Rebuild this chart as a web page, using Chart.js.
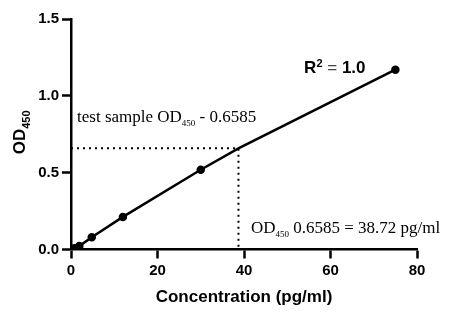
<!DOCTYPE html>
<html>
<head>
<meta charset="utf-8">
<script src="https://cdn.jsdelivr.net/npm/chart.js@4"></script>
<style>
  body { margin: 0; background: #fff; }
  canvas { display: block; }
</style>
</head>
<body>
<canvas id="chart" width="458" height="316"></canvas>
<script>
// standard curve (pg/ml vs OD450)
const concentrations = [0, 0.77, 1.92, 4.8, 12, 30, 38.72, 75];
const odValues = [0, 0.008, 0.022, 0.08, 0.212, 0.519, 0.6585, 1.17];
// 38.72 is the interpolated test sample, drawn without a marker
const pointSizes = [3, 3, 3, 3, 3, 3, 0, 3];

const sampleOD = 0.6585;
const sampleConc = 38.72;

const xTicks = [0, 20, 40, 60, 80];
const yTicks = [0, 0.5, 1.0, 1.5];

const SANS = "'Liberation Sans', Arial, sans-serif";
const SERIF = "'Liberation Serif', 'Times New Roman', serif";

// draws a run of text pieces, some of them sub/superscript
function drawRich(ctx, parts, x, y) {
    ctx.textBaseline = "alphabetic";
    ctx.textAlign = "left";
    let cx = x;
    parts.forEach(p => {
        ctx.font = p.font;
        ctx.fillStyle = p.color || "#000";
        ctx.fillText(p.t, cx, y + (p.dy || 0));
        cx += ctx.measureText(p.t).width;
    });
}

const labelsPlugin = {
    id: "labels",
    afterDraw(chart) {
        const ctx = chart.ctx;
        const xs = chart.scales.x;
        const ys = chart.scales.y;
        ctx.save();

        drawRich(ctx, [
            { t: "test sample OD", font: "17px " + SERIF },
            { t: "450", font: "9px " + SERIF, dy: 4 },
            { t: " - 0.6585", font: "17px " + SERIF }
        ], xs.getPixelForValue(1.4), ys.getPixelForValue(0.83));

        drawRich(ctx, [
            { t: "R", font: "bold 17px " + SANS },
            { t: "2", font: "bold 11px " + SANS, dy: -6 },
            { t: " = ", font: "17px " + SANS, color: "#444" },
            { t: "1.0", font: "bold 17px " + SANS }
        ], xs.getPixelForValue(53.9), ys.getPixelForValue(1.15));

        drawRich(ctx, [
            { t: "OD", font: "17px " + SERIF },
            { t: "450", font: "9px " + SERIF, dy: 4 },
            { t: " 0.6585 = 38.72 pg/ml", font: "17px " + SERIF }
        ], xs.getPixelForValue(41.6), ys.getPixelForValue(0.108));

        // y axis title, rotated
        ctx.translate(25, (ys.top + ys.bottom) / 2 + 20);
        ctx.rotate(-Math.PI / 2);
        drawRich(ctx, [
            { t: "OD", font: "bold 17px " + SANS },
            { t: "450", font: "bold 11px " + SANS, dy: 5 }
        ], 0, 0);

        ctx.restore();
    }
};

const axisGrid = {
    drawOnChartArea: false,
    drawTicks: true,
    tickLength: 9,
    tickWidth: 2.5,
    tickColor: "#000"
};

new Chart(document.getElementById("chart"), {
    type: "scatter",
    data: {
        datasets: [
            {
                label: "standard",
                data: concentrations.map((c, i) => ({ x: c, y: odValues[i] })),
                showLine: true,
                borderColor: "#000",
                backgroundColor: "#000",
                borderWidth: 2.5,
                pointRadius: pointSizes,
                pointHoverRadius: pointSizes
            },
            {
                label: "sample",
                data: [
                    { x: 0, y: sampleOD },
                    { x: sampleConc, y: sampleOD },
                    { x: sampleConc, y: 0 }
                ],
                showLine: true,
                borderColor: "#000",
                borderWidth: 2,
                borderDash: [2, 4],
                pointRadius: 0
            }
        ]
    },
    options: {
        responsive: false,
        animation: false,
        devicePixelRatio: 1,
        layout: { padding: { top: 19, right: 41, left: 0, bottom: 0 } },
        plugins: {
            legend: { display: false },
            tooltip: { enabled: false }
        },
        scales: {
            x: {
                type: "linear",
                min: 0,
                max: 80,
                afterFit: s => { s.height = 66.5; },
                afterBuildTicks: s => { s.ticks = xTicks.map(v => ({ value: v })); },
                border: { display: true, color: "#000", width: 2.5 },
                grid: axisGrid,
                ticks: {
                    color: "#000",
                    padding: 3,
                    maxRotation: 0,
                    font: { family: SANS, size: 15, weight: "bold" }
                },
                title: {
                    display: true,
                    text: "Concentration (pg/ml)",
                    color: "#000",
                    padding: { top: 4, bottom: 8 },
                    font: { family: SANS, size: 17, weight: "bold" }
                }
            },
            y: {
                type: "linear",
                min: 0,
                max: 1.5,
                afterFit: s => { s.width = 71; },
                afterBuildTicks: s => { s.ticks = yTicks.map(v => ({ value: v })); },
                border: { display: true, color: "#000", width: 2.5 },
                grid: axisGrid,
                ticks: {
                    color: "#000",
                    padding: 3,
                    callback: v => v.toFixed(1),
                    font: { family: SANS, size: 15, weight: "bold" }
                }
            }
        }
    },
    plugins: [labelsPlugin]
});
</script>
</body>
</html>
